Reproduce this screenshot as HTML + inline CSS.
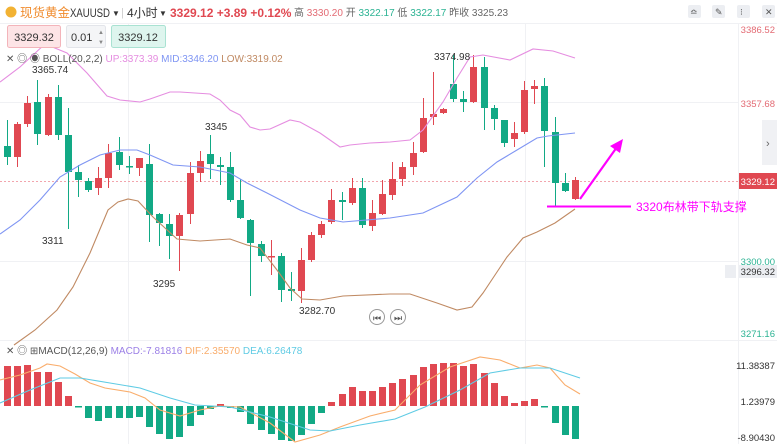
<!DOCTYPE html>
<html><head><meta charset="utf-8">
<style>
html,body{margin:0;padding:0;background:#fff;width:777px;height:444px;overflow:hidden}
svg{display:block;font-family:"Liberation Sans","Noto Sans CJK SC",sans-serif}
</style></head><body>
<svg id="s" width="777" height="444" viewBox="0 0 777 444" xmlns="http://www.w3.org/2000/svg">
<rect width="777" height="444" fill="#fff"/>
<g stroke="#f0f1f4" stroke-width="1">
<line x1="0" y1="102.5" x2="738" y2="102.5"/>
<line x1="0" y1="261.5" x2="738" y2="261.5"/>
<line x1="128.5" y1="23" x2="128.5" y2="444"/>
<line x1="525.5" y1="23" x2="525.5" y2="444"/>
<line x1="0" y1="23.5" x2="777" y2="23.5"/>
<line x1="0" y1="340.5" x2="777" y2="340.5"/>
<line x1="738.5" y1="23" x2="738.5" y2="444"/>
</g>
<line x1="0" y1="181.5" x2="738" y2="181.5" stroke="#f2a5ad" stroke-width="1" stroke-dasharray="2,2"/>
<g id="candles"></g>
<g id="macd"></g>
<g fill="none" stroke-width="1.1">
<polyline stroke="#e58de0" points="0,82 20,67 45,44 67,53 87,73 107,96 120,100 140,102 150,99 170,92 180,92 210,94 220,100 230,110 240,115 250,127 260,130 270,129 290,120 300,122 320,133 340,147 350,145 370,143 390,142 410,140 423,130 443,102 457,78 470,57 483,55 510,60 533,49 553,51 575,58"/>
<polyline stroke="#7f95f3" points="0,234 20,220 40,200 60,177 80,165 100,155 120,150 137,150 150,155 173,165 200,167 230,173 247,183 267,193 300,210 320,218 343,222 390,218 423,213 457,197 477,178 497,162 517,150 537,138 548,136 575,133"/>
<polyline stroke="#c08a63" points="14,345 35,330 57,310 73,287 90,253 108,210 118,202 128,199 138,201 153,217 177,239 200,241 230,239 247,245 260,248 277,270 290,288 302,299 320,300 343,296 390,294 410,294 437,303 457,310 472,307 483,293 497,272 507,257 523,238 537,232 555,223 575,209"/>
<polyline stroke="#f9ad6c" points="0,380 20,375 40,368 47,364 60,366 75,374 90,383 105,388 130,392 145,398 160,410 180,416 200,410 220,406 240,407 270,423 295,442 320,435 340,427 370,416 395,410 420,385 450,367 480,357 500,360 520,368 537,365 550,368 565,385 580,394"/>
<polyline stroke="#5fcbe4" points="0,403 30,390 60,378 80,378 110,383 140,388 170,398 195,405 230,407 270,417 310,430 330,431 360,425 395,419 425,407 460,390 490,373 520,368 550,368 580,378"/>
</g>
<g font-size="10" fill="#333">
<text x="32" y="73">3365.74</text>
<text x="205" y="130">3345</text>
<text x="42" y="244">3311</text>
<text x="153" y="287">3295</text>
<text x="299" y="314">3282.70</text>
<text x="434" y="60">3374.98</text>
</g>
<circle cx="377" cy="317" r="7.5" fill="#fff" stroke="#999"/><text x="377" y="321" font-size="9" text-anchor="middle" fill="#555">⏮</text>
<circle cx="398" cy="317" r="7.5" fill="#fff" stroke="#999"/><text x="398" y="321" font-size="9" text-anchor="middle" fill="#555">⏭</text>
<line x1="547" y1="206.5" x2="631" y2="206.5" stroke="#ff00ff" stroke-width="2"/>
<text x="636" y="211" font-size="12" fill="#ff00ff">3320布林带下轨支撑</text>
<line x1="580" y1="199" x2="617" y2="147" stroke="#ff00ff" stroke-width="2.2"/>
<polygon points="623,139 610,146 620,153" fill="#ff00ff"/>
<g font-size="9.5" text-anchor="end">
<text x="775" y="33" fill="#e36b74">3386.52</text>
<text x="775" y="107" fill="#e36b74">3357.68</text>
<rect x="739" y="173" width="38" height="16" fill="#e04851"/>
<text x="775" y="185" fill="#fff">3329.12</text>
<text x="775" y="265" fill="#2bb393">3300.00</text>
<rect x="725" y="265" width="11" height="13" fill="#eceef2"/>
<rect x="739" y="265" width="38" height="13" fill="#eceef2"/>
<text x="775" y="275" fill="#333">3296.32</text>
<text x="775" y="337" fill="#2bb393">3271.16</text>
<text x="775" y="369" fill="#333">11.38387</text>
<text x="775" y="405" fill="#333">1.23979</text>
<text x="775" y="441" fill="#333">-8.90430</text>
</g>
<rect x="762" y="120" width="15" height="45" fill="#f0f1f4"/>
<text x="766" y="147" font-size="11" fill="#666">›</text>
<circle cx="11" cy="12" r="5.5" fill="#f2b233"/>
<text x="20" y="17" font-size="12.5" fill="#f08c2e">现货黄金</text>
<text x="70" y="17" font-size="11.5" fill="#333" textLength="40" lengthAdjust="spacingAndGlyphs">XAUUSD</text>
<text x="112" y="16" font-size="8" fill="#333">▼</text>
<text x="121" y="16" font-size="11" fill="#ccc">|</text>
<text x="127" y="17" font-size="12" fill="#333">4小时</text>
<text x="159" y="16" font-size="8" fill="#333">▼</text>
<text x="170" y="17" font-size="12" font-weight="bold" fill="#e04851">3329.12  +3.89  +0.12%</text>
<text x="294" y="16" font-size="10" fill="#666">高 <tspan fill="#e36b74">3330.20</tspan> 开 <tspan fill="#2bb393">3322.17</tspan> 低 <tspan fill="#2bb393">3322.17</tspan> 昨收 3325.23</text>
<g fill="#eceef2"><rect x="688" y="5" width="13" height="13" rx="2"/><rect x="712" y="5" width="13" height="13" rx="2"/><rect x="737" y="5" width="13" height="13" rx="2"/><rect x="762" y="5" width="13" height="13" rx="2"/></g>
<text x="690" y="15" font-size="9" fill="#555">≏</text>
<text x="715" y="15" font-size="9" fill="#555">✎</text>
<text x="740" y="15" font-size="9" fill="#555">⁝</text>
<text x="765" y="15" font-size="9" fill="#555">✕</text>
<rect x="7.5" y="25.5" width="53" height="22" rx="2" fill="#fde4e6" stroke="#f3b4ba"/>
<text x="34" y="41" font-size="11" fill="#333" text-anchor="middle">3329.32</text>
<rect x="66.5" y="25.5" width="39" height="22" rx="2" fill="#f4f5f7" stroke="#e3e5ea"/>
<text x="71" y="41" font-size="11" fill="#333">0.01</text>
<text x="98" y="34" font-size="6" fill="#888">▲</text><text x="98" y="44" font-size="6" fill="#888">▼</text>
<rect x="111.5" y="25.5" width="54" height="22" rx="2" fill="#def5ee" stroke="#a9e2d2"/>
<text x="138" y="41" font-size="11" fill="#333" text-anchor="middle">3329.12</text>
<text x="6" y="62" font-size="10" fill="#555">✕ ◎ ◉ BOLL(20,2,2)  <tspan fill="#e58de0">UP:3373.39</tspan>  <tspan fill="#7f95f3">MID:3346.20</tspan>  <tspan fill="#c08a63">LOW:3319.02</tspan></text>
<text x="6" y="354" font-size="10" fill="#555">✕ ◎ ⊞MACD(12,26,9)  <tspan fill="#9b7fe6">MACD:-7.81816</tspan>  <tspan fill="#f9ad6c">DIF:2.35570</tspan>  <tspan fill="#5fcbe4">DEA:6.26478</tspan></text>
</svg>
<script>
var C=[[146,157,120,165,0],[124,157,122,167,1],[103,124,96,127,1],[102,134,80,145,0],[97,135,94,136,1],[97,135,85,140,0],[135,172,108,229,0],[172,180,165,197,0],[181,190,178,192,0],[178,188,167,195,1],[153,178,144,188,1],[152,165,137,170,0],[166,167,156,174,0],[158,168,158,176,1],[164,215,144,242,0],[214,223,213,246,0],[224,236,214,259,0],[215,236,213,271,1],[173,214,162,224,1],[161,173,151,182,1],[154,164,135,179,0],[165,167,157,185,0],[167,200,152,202,0],[200,218,179,219,0],[220,243,219,296,0],[244,256,241,262,0],[256,257,240,275,1],[256,290,253,302,0],[289,291,272,301,0],[260,291,248,303,1],[235,260,232,262,1],[224,235,221,238,1],[200,222,189,224,1],[200,202,192,220,0],[188,203,178,205,1],[188,225,178,228,0],[213,226,200,231,1],[194,214,180,215,1],[179,195,162,200,1],[167,179,162,186,1],[153,167,142,175,1],[118,152,98,153,1],[114,117,72,125,1],[109,113,108,114,1],[84,99,55,102,0],[99,102,91,112,0],[67,102,55,103,1],[67,108,57,130,0],[108,119,105,130,0],[120,143,120,147,0],[133,139,122,147,1],[90,132,81,134,1],[86,89,80,104,1],[86,131,78,167,0],[132,183,117,206,0],[183,191,173,192,0],[180,199,177,200,1]];
var M=[366,366,365,372,372,382,396,407,418,421,418,418,418,417,427,434,439,437,426,415,409,404,408,412,424,430,434,440,441,435,424,413,402,394,387,391,391,387,383,379,375,367,364,363,363,366,364,373,383,396,403,401,399,407,423,435,439];
var ns="http://www.w3.org/2000/svg",g=document.getElementById("candles"),m=document.getElementById("macd");
function el(p,t,a){var e=document.createElementNS(ns,t);for(var k in a)e.setAttribute(k,a[k]);p.appendChild(e);}
for(var i=0;i<C.length;i++){var x=Math.round(7+i*10.14),c=C[i],col=c[4]?"#e04851":"#12a985";
el(g,"line",{x1:x+0.5,x2:x+0.5,y1:c[2],y2:c[3],stroke:col,"stroke-width":1});
el(g,"rect",{x:x-3,y:c[0],width:7,height:Math.max(1.5,c[1]-c[0]),fill:col});
var y=M[i],z=406;var cc=y<z?"#e04851":"#12a985";
el(m,"rect",{x:x-3,y:Math.min(y,z),width:7,height:Math.max(1.5,Math.abs(y-z)),fill:cc});}
</script>
</body></html>
